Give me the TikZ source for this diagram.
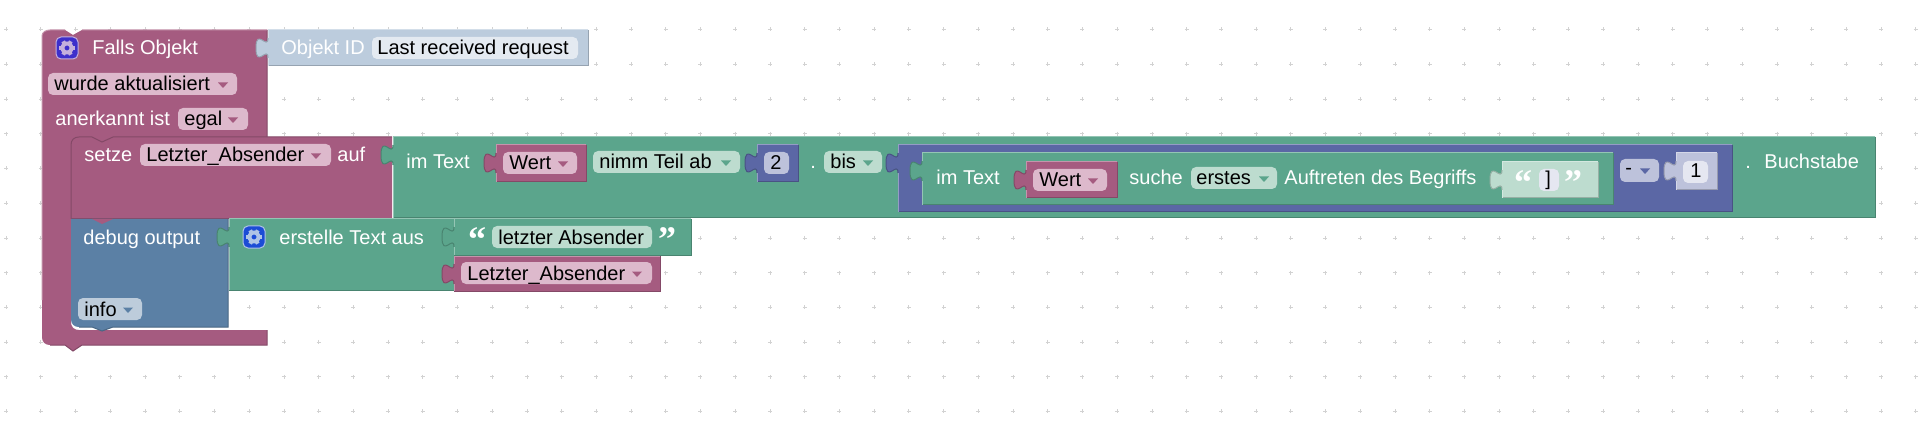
\documentclass[tikz,border=0pt]{standalone}
\usepackage{fontspec}
\setmainfont{Liberation Sans}
\newfontfamily\qfont{Liberation Serif}
\definecolor{mar}{HTML}{A55B80}
\definecolor{marf}{HTML}{DDB9CC}
\definecolor{grn}{HTML}{5BA58C}
\definecolor{grnf}{HTML}{BDDCCF}
\definecolor{blu}{HTML}{5B80A5}
\definecolor{bluf}{HTML}{BDCCDB}
\definecolor{mth}{HTML}{5B67A5}
\definecolor{mthf}{HTML}{BDC2DB}
\definecolor{idc}{HTML}{BCCCDD}
\definecolor{idf}{HTML}{E4EAF1}
\definecolor{mlf}{HTML}{E5E7F1}
\definecolor{griddot}{HTML}{D2D2D2}
\definecolor{gearA}{HTML}{3D2FCB}
\definecolor{gearB}{HTML}{1C4CD6}
\definecolor{cogA}{HTML}{C4B0DC}
\definecolor{cogB}{HTML}{AFC4E6}
\tikzset{
  lab/.style={anchor=base west,inner sep=0pt,xshift=-.5pt,font=\fontsize{10}{12}\selectfont,text=white},
  ftxt/.style={lab,text=black},
  qmark/.style={inner sep=0pt,text=white,font=\qfont\bfseries\fontsize{18}{18}\selectfont},
  thin edge/.style={line width=.5pt},
}
% block with a puzzle tab on the left: x1 y1 x2 y2 colour
\newcommand{\pblock}[5]{%
  \pgfmathsetmacro\ta{#1-12}%
  \pgfmathsetmacro\tb{#2+28}\pgfmathsetmacro\tc{#2+15}\pgfmathsetmacro\td{#2+39}%
  \pgfmathsetmacro\te{#2+18}\pgfmathsetmacro\tf{#2-3}\pgfmathsetmacro\tg{#2+21}\pgfmathsetmacro\th{#2+8}%
  \fill[#5] (#1,#2) -- (#3,#2) -- (#3,#4) -- (#1,#4) -- (#1,\tb)
    .. controls (#1,\tc) and (\ta,\td) .. (\ta,\te)
    .. controls (\ta,\tf) and (#1,\tg) .. (#1,\th) -- cycle;
  \draw[thin edge,#5!80!black] (#3,#2) -- (#3,#4) -- (#1,#4);
  \draw[thin edge,#5!80!black] (#1,\tb)
    .. controls (#1,\tc) and (\ta,\td) .. (\ta,\te)
    .. controls (\ta,\tf) and (#1,\tg) .. (#1,\th);
  \draw[thin edge,#5!65!white] (#1,\th) -- (#1,#2) -- (#3,#2);
  \draw[thin edge,#5!65!white] (#1,#4) -- (#1,\tb);
}
\newcommand{\fieldbox}[5]{\fill[#5,rounded corners=2.5pt] (#1,#2) rectangle (#3,#4);}
\newcommand{\tri}[3]{\fill[#3] (#1,#2) ++(-5,-2.5) -- ++(10,0) -- ++(-5,5.5) -- cycle;}
\newcommand{\gear}[4]{% cx cy box colour, gear colour
  \fill[#3,rounded corners=2.5pt,draw=#4,line width=.5pt] (#1,#2) ++(-11,-11) rectangle ++(22,22);
  \foreach \ang in {0,60,...,300}{\draw[#4,line width=2pt] (#1,#2) ++(\ang:4.5) -- ++(\ang:3.2);}
  \fill[#4,even odd rule] (#1,#2) circle (6.5) (#1,#2) circle (2.6);
}
\begin{document}
\begin{tikzpicture}[x=.5pt,y=-.5pt]
\useasboundingbox[fill=white] (0,0) rectangle (1920,422);
% grid
\foreach \i in {0,...,55}{\foreach \j in {0,...,11}{
  \pgfmathsetmacro\gx{6.06+34.72*\i}\pgfmathsetmacro\gy{29.5+34.72*\j}
  \draw[griddot,line width=.3pt] (\gx-2,\gy) -- (\gx+2,\gy) (\gx,\gy-2) -- (\gx,\gy+2);
}}
% hat block (C shape)
\fill[mar] (42,38) -- (42,36) .. controls (42,32) and (46,30) .. (50,30) -- (65,30) -- (73,35) -- (82,30) -- (267,30) -- (267,137)
  -- (71,137) -- (71,322) .. controls (71,327) and (74,330) .. (79,330) -- (267,330) -- (267,345) -- (82,345) -- (73,351) -- (65,345) -- (50,345)
  .. controls (45,345) and (42,342) .. (42,337) -- cycle;
\draw[thin edge,mar!80!black] (267,30) -- (267,137) (267,330) -- (267,345) -- (82,345) -- (73,351) -- (65,345) -- (50,345);
\draw[thin edge,mar!65!white] (42,300) -- (42,36) .. controls (42,32) and (46,30) .. (50,30) -- (65,30) (82,30) -- (267,30);
% setze block
\fill[mar] (71,145) .. controls (71,140) and (74,137) .. (79,137) -- (392,137) -- (392,219) -- (71,219) -- cycle;
\fill[mar] (71,137) rectangle (80,146);
\draw[thin edge,mar!80!black] (71,219) -- (71,145) .. controls (71,140) and (74,137) .. (79,137) -- (92,137) -- (102,142) -- (113,137) -- (392,137);
\draw[thin edge,mar!80!black] (71,219) -- (392,219);
% debug block
\fill[blu] (71,219) -- (228,219) -- (228,327) -- (113,327) -- (102,331) -- (92,327) -- (79,327)
  .. controls (74,327) and (71,324) .. (71,319) -- cycle;
\fill[mar] (92,219) -- (102,224) -- (113,219) -- cycle;
\draw[thin edge,blu!80!black] (228,219) -- (228,327) -- (113,327) -- (102,331) -- (92,327) -- (79,327);
% Objekt ID
\pblock{268}{30}{588}{66}{idc}
\fieldbox{372}{37}{578}{59}{idf}
% big text block
\pblock{393}{137}{1875}{218}{grn}
\pblock{496}{145}{586}{182}{mar}
\fieldbox{503}{152}{577}{174}{marf}
\fieldbox{593}{151}{740}{173}{grnf}
\pblock{757}{145}{798}{182}{mth}
\fieldbox{764}{152}{789}{174}{mthf}
\fieldbox{824}{151}{882}{173}{grnf}
\pblock{898}{145}{1732}{212}{mth}
\pblock{922}{153}{1613}{205}{grn}
\pblock{1026}{162}{1117}{198}{mar}
\fieldbox{1033}{169}{1107}{191}{marf}
\fieldbox{1191}{167}{1277}{189}{grnf}
\pblock{1502}{162}{1598}{198}{grnf}
\fieldbox{1539}{169}{1559}{191}{mlf}
\fieldbox{1620}{159}{1659}{182}{mthf}
\pblock{1676}{153}{1717}{190}{mthf}
\fieldbox{1683}{161}{1708}{183}{mlf}
% create text
\pblock{229}{219}{454}{290}{grn}
\pblock{454}{219}{691}{255}{grn}
\pblock{454}{256}{660}{291}{mar}
\fieldbox{492}{226}{652}{248}{grnf}
\fieldbox{461}{262}{652}{284}{marf}
% fields of the hat and the statements
\fieldbox{48}{73}{237}{95}{marf}
\fieldbox{178}{108}{248}{130}{marf}
\fieldbox{140}{144}{331}{166}{marf}
\fieldbox{78}{298}{142}{320}{bluf}
% gears
\gear{67}{48}{gearA}{cogA}
\gear{254}{237}{gearB}{cogB}
% triangles
\tri{223}{85}{mar}
\tri{233}{120}{mar}
\tri{316}{156}{mar}
\tri{563}{164}{mar}
\tri{726}{163}{grn}
\tri{868}{163}{grn}
\tri{1093}{181}{mar}
\tri{1264}{179}{grn}
\tri{128}{310}{blu}
\tri{637}{274}{mar}
\tri{1645}{171}{mth}
% texts
\node[lab] (falls) at (93,55) {Falls Objekt};
\node[lab,text=white] (oid) at (282,55) {Objekt ID};
\node[ftxt] (last) at (378,55) {Last received request};
\node[ftxt] (wurde) at (55,91) {wurde aktualisiert};
\node[lab] (anerk) at (56,126) {anerkannt ist};
\node[ftxt] (egal) at (185,126) {egal};
\node[lab] (setze) at (85,162) {setze};
\node[ftxt] (labs) at (147,162) {Letzter\_Absender};
\node[lab] (auf) at (338,162) {auf};
\node[lab] (imt) at (407,169) {im Text};
\node[ftxt] (wert) at (510,170) {Wert};
\node[ftxt] (nimm) at (600,169) {nimm Teil ab};
\node[ftxt] (two) at (771,170) {2};
\node[lab] (dot) at (811,169) {.};
\node[ftxt] (bis) at (831,169) {bis};
\node[lab] (imti) at (937,185) {im Text};
\node[ftxt] (werti) at (1040,187) {Wert};
\node[lab] (suche) at (1130,185) {suche};
\node[ftxt] (erstes) at (1197,185) {erstes};
\node[lab] (auft) at (1285,185) {Auftreten des Begriffs};
\node[ftxt] (brack) at (1546,186) {]};
\node[qmark,anchor=center] (q1) at (1523,183) {“};
\node[qmark,anchor=center] (q2) at (1573,183) {”};
\node[ftxt] (minus) at (1626,175) {-};
\node[ftxt] (one) at (1691,178) {1};
\node[lab] (dotb) at (1746,169) {.};
\node[lab] (buch) at (1765,169) {Buchstabe};
\node[lab] (debug) at (84,244) {debug output};
\node[lab] (erst) at (280,244) {erstelle Text aus};
\node[qmark,anchor=center] (q3) at (477,240) {“};
\node[ftxt] (letz) at (499,244) {letzter Absender};
\node[qmark,anchor=center] (q4) at (667,240) {”};
\node[ftxt] (labs2) at (468,280) {Letzter\_Absender};
\node[ftxt] (info) at (85,316) {info};
\end{tikzpicture}
\end{document}
